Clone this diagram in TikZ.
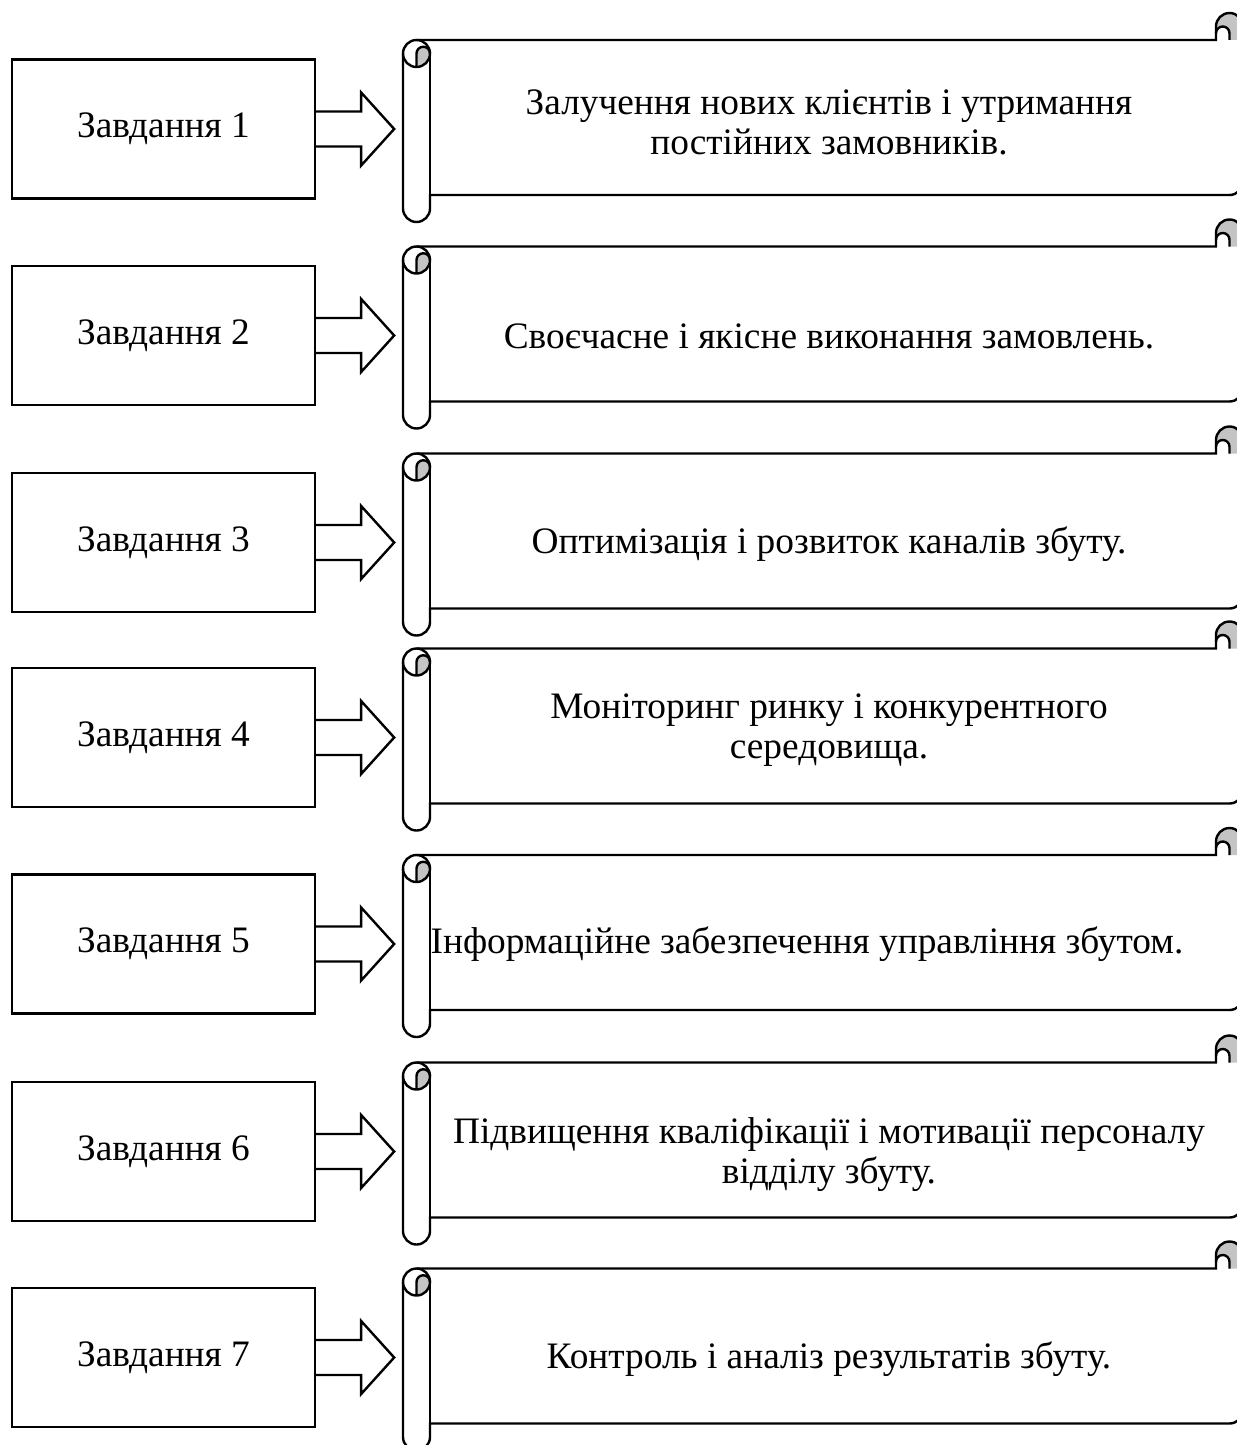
\documentclass[tikz,border=0pt]{standalone}
\usepackage{fontspec}
\setmainfont{Liberation Serif}
\usetikzlibrary{calc}
\definecolor{curlgray}{RGB}{196,196,196}

\tikzset{
  scroll/.pic={
    % shaded curls
    \fill[curlgray] (13.5,54) -- (13.5,40.5) arc[start angle=180, end angle=360, radius=6.75]
      arc[start angle=0, end angle=90, radius=13.5] -- cycle;
    \fill[curlgray] (813,20.25) -- (813,13.5) arc[start angle=180, end angle=360, radius=13.5]
      -- (840,27) -- (826.5,27) -- (826.5,20.25)
      arc[start angle=0, end angle=-180, radius=6.75] -- cycle;
    % outline
    \draw (0,40.5) arc[start angle=180, end angle=270, radius=13.5] -- (813,27) -- (813,13.5)
      arc[start angle=180, end angle=360, radius=13.5] -- (840,168.5)
      arc[start angle=0, end angle=90, radius=13.5] -- (27,182) -- (27,195.5)
      arc[start angle=0, end angle=180, radius=13.5] -- cycle;
    \draw (13.5,27) arc[start angle=270, end angle=540, radius=13.5];
    \draw (27,40.5) -- (27,182);
    \draw (13.5,54) -- (13.5,40.5) arc[start angle=180, end angle=360, radius=6.75];
    \draw (826.5,27) -- (826.5,20.25) arc[start angle=0, end angle=-180, radius=6.75];
  }
}

\begin{document}
\begin{tikzpicture}[x=0.375pt, y=-0.375pt, line width=0.9pt,
  taskbox/.style={draw, minimum width=113.6pt, minimum height=52.1pt, inner sep=0pt,
    font=\fontsize{14}{15}\selectfont},
  goaltext/.style={align=center, font=\fontsize{14}{15}\selectfont},
  blockarrow/.style={line join=miter}]
  \useasboundingbox (0,0) rectangle (1237,1445);
  \clip (0,0) rectangle (1237,1445);

  \foreach \c/\n/\tx/\ty/\txt in {
      129/1/829/122/{Залучення нових клієнтів і утримання\\постійних замовників.},
      335.5/2/829/336/{Своєчасне і якісне виконання замовлень.},
      542.5/3/829/544/{Оптимізація і розвиток каналів збуту.},
      737.5/4/829/730/{Моніторинг ринку і конкурентного\\середовища.},
      944/5/807/944/{Інформаційне забезпечення управління збутом.},
      1151.5/6/829/1155/{Підвищення кваліфікації і мотивації персоналу\\відділу збуту.},
      1357.5/7/829/1359/{Контроль і аналіз результатів збуту.}} {
    \node[taskbox] (task\n) at (163.5,\c) {Завдання \n};
    \pic at (403,\c-116) {scroll};
    \node[goaltext] (goal\n) at (\tx,\ty) {\txt};
    \draw[blockarrow] ($(task\n.east)+(0,-17.5)$) -- ++(45,0) -- ++(0,-19)
      -- ++(33,36.5) -- ++(-33,36.5) -- ++(0,-19) -- ++(-45,0);
  }
\end{tikzpicture}
\end{document}
